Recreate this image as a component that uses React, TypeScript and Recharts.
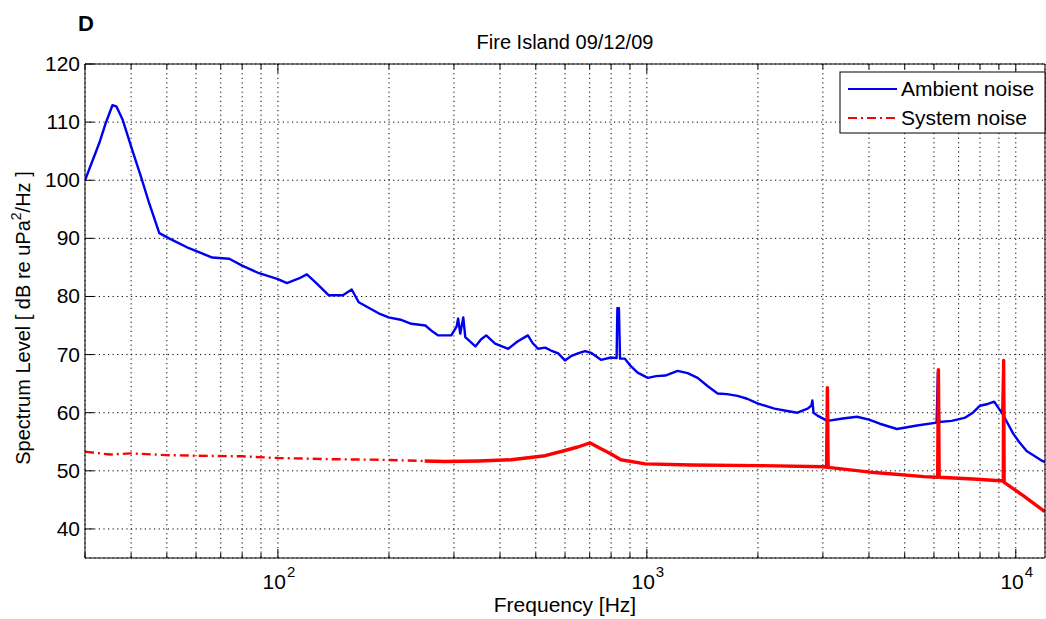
import React from 'react';
import { LineChart, Line, XAxis, YAxis, CartesianGrid } from 'recharts';

const FONT = '"Liberation Sans", Arial, Helvetica, sans-serif';
const BLUE = '#0000f0';
const RED = '#ff0000';

// axis ticks
const freqTicks = [
  30, 40, 50, 60, 70, 80, 90,
  100, 200, 300, 400, 500, 600, 700, 800, 900,
  1000, 2000, 3000, 4000, 5000, 6000, 7000, 8000, 9000,
  10000,
];
const decadeTicks = [100, 1000, 10000];
const levelTicks = [40, 50, 60, 70, 80, 90, 100, 110, 120];

// [frequency Hz, level dB]
const ambientNoise = [
  [30, 100.0], [32.8, 106.4], [34, 109.5], [35.6, 112.9], [36.5, 112.7], [37.9, 110.5],
  [40.3, 105.2], [42.6, 100.5], [44.8, 96.0], [47.7, 90.9], [50.7, 90.0], [57.4, 88.3],
  [66.4, 86.7], [73.8, 86.5], [80, 85.3], [88.9, 84.0], [100, 83.0], [105.8, 82.3],
  [114, 83.1], [119.8, 83.8], [126.7, 82.4], [137.4, 80.2], [150, 80.2], [158.5, 81.2],
  [165.6, 79.0], [187.5, 77.1], [199.5, 76.4], [215, 76.0], [230, 75.3], [251, 75.0],
  [262, 74.0], [272, 73.3], [295, 73.3], [305, 74.8], [308, 76.2], [312, 73.6],
  [318, 76.4], [322, 73.0], [343, 71.4], [355, 72.6], [367, 73.3], [388, 71.9],
  [421, 71.0], [445, 72.2], [467, 73.0], [476, 73.3], [490, 72.0], [507, 71.0],
  [530, 71.2], [550, 70.7], [575, 70.2], [600, 69.0], [625, 69.8], [650, 70.2],
  [680, 70.6], [706, 70.3], [751, 69.1], [800, 69.5], [828, 69.4], [832, 78.0],
  [840, 78.0], [846, 69.3], [872, 69.3], [905, 68.0], [944, 66.9], [1006, 66.0],
  [1060, 66.3], [1122, 66.4], [1212, 67.2], [1290, 66.8], [1373, 66.0], [1460, 64.6],
  [1555, 63.3], [1650, 63.2], [1761, 62.9], [1870, 62.4], [1995, 61.6], [2218, 60.7],
  [2400, 60.3], [2560, 60.0], [2727, 60.7], [2790, 61.2], [2810, 62.1], [2830, 60.0],
  [2900, 59.5], [3085, 58.6], [3400, 59.0], [3710, 59.3], [4000, 58.8], [4280, 58.1],
  [4765, 57.2], [5400, 57.8], [6100, 58.3], [6150, 67.0], [6200, 58.4], [6700, 58.6],
  [7260, 59.1], [7650, 60.0], [8000, 61.2], [8400, 61.5], [8740, 61.9], [9200, 59.8],
  [9250, 68.5], [9300, 59.3], [9840, 56.4], [10200, 55.0], [10700, 53.4], [11800, 51.7],
  [12000, 51.5],
];

const systemNoiseLow = [
  [30, 53.3], [35, 52.8], [40, 53.0], [50, 52.7], [60, 52.6], [80, 52.5],
  [100, 52.2], [140, 52.0], [188, 51.9], [250, 51.7],
];

const systemNoiseHigh = [
  [250, 51.7], [284, 51.6], [350, 51.7], [429, 51.9], [530, 52.6], [600, 53.5],
  [650, 54.1], [702, 54.8], [740, 54.0], [800, 52.9], [850, 51.9], [990, 51.2],
  [1320, 51.0], [2000, 50.9], [3030, 50.7], [3070, 50.6], [3086, 64.3], [3100, 50.6],
  [4140, 49.7], [5640, 49.0], [6140, 48.9], [6170, 67.4], [6200, 48.9], [7660, 48.6],
  [9090, 48.3], [9250, 48.2], [9270, 69.0], [9300, 48.0], [10500, 45.7], [11800, 43.3],
  [12000, 43.0],
];

const toRows = (pts: number[][]) => pts.map(([f, db]) => ({ f, db }));

const BottomTick = (props: any) => {
  const { x, y, payload } = props;
  const v = payload.value;
  const major = decadeTicks.includes(v);
  const exp = Math.round(Math.log10(v));
  return (
    <g>
      <line x1={x} y1={y} x2={x} y2={y - (major ? 9 : 5)} stroke="#000" />
      {major && (
        <text x={x + 8} y={y + 31} textAnchor="end" fontSize={21} fontFamily={FONT} fill="#000">
          10
        </text>
      )}
      {major && (
        <text x={x + 9} y={y + 19} fontSize={15} fontFamily={FONT} fill="#000">
          {exp}
        </text>
      )}
    </g>
  );
};

const TopTick = (props: any) => {
  const { x, y, payload } = props;
  const major = decadeTicks.includes(payload.value);
  return <line x1={x} y1={y} x2={x} y2={y + (major ? 9 : 5)} stroke="#000" />;
};

const LeftTick = (props: any) => {
  const { x, y, payload } = props;
  return (
    <g>
      <line x1={x} y1={y} x2={x + 9} y2={y} stroke="#000" />
      <text x={x - 5} y={y + 7} textAnchor="end" fontSize={21} fontFamily={FONT} fill="#000">
        {payload.value}
      </text>
    </g>
  );
};

const RightTick = (props: any) => {
  const { x, y } = props;
  return <line x1={x} y1={y} x2={x - 9} y2={y} stroke="#000" />;
};

export default function App() {
  return (
    <div style={{ position: 'absolute', left: 0, top: 0, width: 1046, height: 619, background: '#fff' }}>
      <LineChart width={1046} height={619} margin={{ top: 63, right: 0, bottom: 0, left: 0 }}>
        <CartesianGrid stroke="#000" strokeDasharray="1.2 3.4" strokeWidth={1} />
        <XAxis
          dataKey="f"
          type="number"
          scale="log"
          domain={[30, 12000]}
          allowDataOverflow
          ticks={freqTicks}
          interval={0}
          height={61}
          tickSize={0}
          tickMargin={0}
          tick={<BottomTick />}
          stroke="#000"
        />
        <XAxis
          xAxisId="top"
          orientation="top"
          dataKey="f"
          type="number"
          scale="log"
          domain={[30, 12000]}
          allowDataOverflow
          ticks={freqTicks}
          interval={0}
          height={1}
          tickSize={0}
          tickMargin={0}
          tick={<TopTick />}
          stroke="#000"
        />
        <YAxis
          type="number"
          domain={[35, 120]}
          allowDataOverflow
          ticks={levelTicks}
          interval={0}
          width={85}
          tickSize={0}
          tickMargin={0}
          tick={<LeftTick />}
          stroke="#000"
        />
        <YAxis
          yAxisId="right"
          orientation="right"
          type="number"
          domain={[35, 120]}
          ticks={levelTicks}
          interval={0}
          width={1}
          tickSize={0}
          tickMargin={0}
          tick={<RightTick />}
          stroke="#000"
        />
        <Line
          data={toRows(ambientNoise)}
          dataKey="db"
          name="Ambient noise"
          stroke={BLUE}
          strokeWidth={2.4}
          strokeLinejoin="round"
          dot={false}
          type="linear"
          isAnimationActive={false}
        />
        <Line
          data={toRows(systemNoiseLow)}
          dataKey="db"
          name="System noise"
          stroke={RED}
          strokeWidth={2.4}
          strokeDasharray="9 4 2 4"
          dot={false}
          type="linear"
          isAnimationActive={false}
        />
        <Line
          data={toRows(systemNoiseHigh)}
          dataKey="db"
          name="System noise (dense)"
          stroke={RED}
          strokeWidth={3.4}
          strokeLinejoin="round"
          dot={false}
          type="linear"
          isAnimationActive={false}
        />
      </LineChart>

      <svg
        width={1046}
        height={619}
        style={{ position: 'absolute', left: 0, top: 0, pointerEvents: 'none' }}
        fontFamily={FONT}
      >
        <text x={78} y={31} fontSize={22} fontWeight="bold" fill="#000">D</text>
        <text x={565} y={49} fontSize={20} textAnchor="middle" fill="#000">Fire Island 09/12/09</text>
        <text x={565} y={612} fontSize={21} textAnchor="middle" fill="#000">Frequency [Hz]</text>
        <text transform="translate(30,318) rotate(-90)" fontSize={20} textAnchor="middle" fill="#000">
          Spectrum Level [ dB re uPa<tspan dy={-9} fontSize={14}>2</tspan>
          <tspan dy={9}>/Hz ]</tspan>
        </text>

        <rect x={840} y={72} width={205} height={61} fill="#fff" stroke="#000" strokeWidth={1} />
        <line x1={848} y1={89} x2={897} y2={89} stroke={BLUE} strokeWidth={2} />
        <text x={901} y={96} fontSize={21} fill="#000">Ambient noise</text>
        <line x1={848} y1={118} x2={897} y2={118} stroke={RED} strokeWidth={2} strokeDasharray="9 4 2 4" />
        <text x={901} y={125} fontSize={21} fill="#000">System noise</text>
      </svg>
    </div>
  );
}
